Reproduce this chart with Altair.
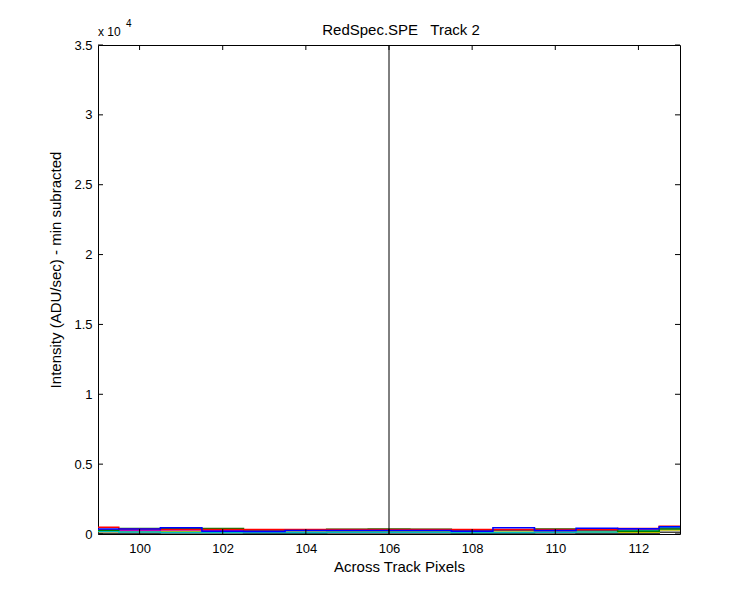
import altair as alt
import pandas as pd

pixels = list(range(99, 114))
blue    = [350, 350, 450, 200, 180, 250, 250, 250, 250, 200, 450, 250, 420, 380, 520]
red     = [480, 350, 330, 330, 330, 330, 330, 330, 330, 330, 330, 330, 330, 400, 560]
green   = [260, 390, 390, 390, 300, 300, 340, 360, 340, 300, 300, 360, 300, 200, 350]
cyan    = [200, 150, 110, 110, 100, 100, 120, 130, 120, 110, 110, 120, 140, 250, 470]
magenta = [300, 250, 280, 230, 230, 260, 260, 260, 260, 260, 260, 240, 260, 310, 420]
yellow  = [180, 180, 160, 160, 150, 150, 160, 160, 160, 150, 150, 160, 170, 120, 280]
dark    = [60, 60, 70, 70, 60, 60, 70, 70, 70, 60, 60, 70, 60, 40, 120]

series = {"k": dark, "y": yellow, "m": magenta, "c": cyan, "g": green, "r": red, "b": blue}
colors = {"k": "#404040", "y": "#bfbf00", "m": "#bf00bf", "c": "#00bfbf",
          "g": "#008000", "r": "#ff0000", "b": "#0000ff"}

rows = []
for name, vals in series.items():
    for p, v in zip(pixels, vals):
        rows.append({"series": name, "pixel": p, "value": v})
df = pd.DataFrame(rows)

x_ticks = [100, 102, 104, 106, 108, 110, 112]
y_ticks = [0, 5000, 10000, 15000, 20000, 25000, 30000, 35000]
marker_x = [106]

W, H = 582, 489
xs = alt.Scale(domain=[99, 113], nice=False, zero=False)
ys = alt.Scale(domain=[0, 35000], nice=False)

font = "Liberation Sans"

lines = alt.Chart(df).mark_line(interpolate="step", strokeWidth=1.5, clip=True).encode(
    x=alt.X("pixel:Q", scale=xs,
            axis=alt.Axis(values=x_ticks, title="Across Track Pixels", tickSize=0,
                          labelPadding=8, titlePadding=4, domain=False, grid=False,
                          titleX=W / 2 + 10, labelFontSize=13, titleFontSize=15,
                          labelFont=font, titleFont=font, titleFontWeight="normal",
                          labelColor="black", titleColor="black")),
    y=alt.Y("value:Q", scale=ys,
            axis=alt.Axis(values=y_ticks, title="Intensity (ADU/sec) - min subracted",
                          tickSize=0, labelPadding=6, domain=False, grid=False,
                          labelExpr="toString(datum.value / 10000)",
                          titlePadding=10, titleY=H / 2 - 20,
                          labelFontSize=13, titleFontSize=15,
                          labelFont=font, titleFont=font, titleFontWeight="normal",
                          labelColor="black", titleColor="black")),
    color=alt.Color("series:N", scale=alt.Scale(domain=list(colors.keys()),
                                                range=list(colors.values())), legend=None),
    order=alt.Order("series:N"),
)

vline = alt.Chart(pd.DataFrame({"x": marker_x})).mark_rule(color="black", strokeWidth=1).encode(
    x=alt.X("x:Q", scale=xs), y=alt.value(0), y2=alt.value(H))

xt = pd.DataFrame({"x": x_ticks})
yt = pd.DataFrame({"y": y_ticks})
tb = alt.Chart(xt).mark_rule(color="black").encode(x=alt.X("x:Q", scale=xs), y=alt.value(H), y2=alt.value(H - 5))
tt = alt.Chart(xt).mark_rule(color="black").encode(x=alt.X("x:Q", scale=xs), y=alt.value(0), y2=alt.value(5))
tl = alt.Chart(yt).mark_rule(color="black").encode(y=alt.Y("y:Q", scale=ys), x=alt.value(0), x2=alt.value(5))
tr = alt.Chart(yt).mark_rule(color="black").encode(y=alt.Y("y:Q", scale=ys), x=alt.value(W), x2=alt.value(W - 5))

exp1 = alt.Chart(pd.DataFrame({"t": ["x 10"]})).mark_text(
    align="left", baseline="alphabetic", fontSize=12, font=font, color="black").encode(
    text="t:N", x=alt.value(0), y=alt.value(-9))
exp2 = alt.Chart(pd.DataFrame({"t": ["4"]})).mark_text(
    align="left", baseline="alphabetic", fontSize=10, font=font, color="black").encode(
    text="t:N", x=alt.value(28), y=alt.value(-18))

title_df = pd.DataFrame({"t": ["RedSpec.SPE\u00a0\u00a0 Track 2"]})
title_mark = alt.Chart(title_df).mark_text(
    align="center", baseline="alphabetic", fontSize=15, font=font, color="black").encode(
    text="t:N", x=alt.value(W / 2 + 12), y=alt.value(-10))

chart = alt.layer(lines, vline, tb, tt, tl, tr, exp1, exp2, title_mark).properties(
    width=W, height=H,
    autosize="none",
    background="white",
    padding={"left": 90, "top": 37, "right": 62, "bottom": 50},
).configure_view(stroke="black", strokeWidth=1)

chart.save("out.html", embed_options={"renderer": "svg", "actions": False})
